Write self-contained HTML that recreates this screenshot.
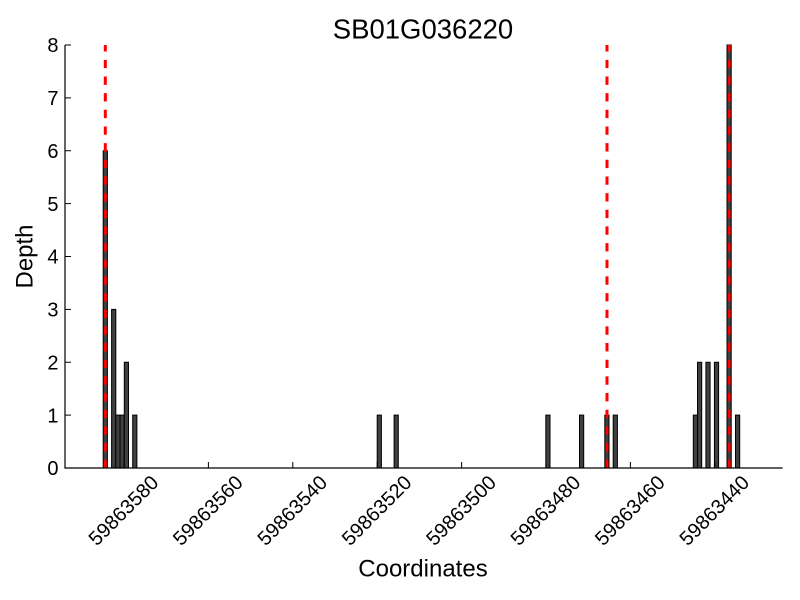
<!DOCTYPE html>
<html>
<head>
<meta charset="utf-8">
<style>
  html, body { margin: 0; padding: 0; background: #ffffff; }
  svg { display: block; }
  text { font-family: "Liberation Sans", "DejaVu Sans", sans-serif; fill: #000; }
</style>
</head>
<body>
<svg width="800" height="600" viewBox="0 0 800 600" xmlns="http://www.w3.org/2000/svg">
  <rect x="0" y="0" width="800" height="600" fill="#ffffff"/>

  <!-- Title -->
  <text x="423" y="38.5" font-size="27.5" text-anchor="middle">SB01G036220</text>

  <!-- Bars -->
  <g fill="#404040" stroke="#000" stroke-width="1">
    <rect x="103.2" y="150.75" width="4.2" height="317.25"/>
    <rect x="111.6" y="309.4" width="4.2" height="158.6"/>
    <rect x="115.8" y="415.1" width="4.2" height="52.9"/>
    <rect x="120.0" y="415.1" width="4.2" height="52.9"/>
    <rect x="124.3" y="362.25" width="4.2" height="105.75"/>
    <rect x="132.7" y="415.1" width="4.2" height="52.9"/>

    <rect x="377.2" y="415.1" width="4.2" height="52.9"/>
    <rect x="394.1" y="415.1" width="4.2" height="52.9"/>

    <rect x="545.8" y="415.1" width="4.2" height="52.9"/>
    <rect x="579.5" y="415.1" width="4.2" height="52.9"/>
    <rect x="604.8" y="415.1" width="4.2" height="52.9"/>
    <rect x="613.2" y="415.1" width="4.2" height="52.9"/>

    <rect x="693.3" y="415.1" width="4.2" height="52.9"/>
    <rect x="697.5" y="362.25" width="4.2" height="105.75"/>
    <rect x="705.9" y="362.25" width="4.2" height="105.75"/>
    <rect x="714.4" y="362.25" width="4.2" height="105.75"/>
    <rect x="727.0" y="45" width="4.2" height="423"/>
    <rect x="735.5" y="415.1" width="4.2" height="52.9"/>
  </g>

  <!-- Red dashed lines (drawn from bottom upward) -->
  <g stroke="#ff0000" stroke-width="3" stroke-dasharray="8.33 8.33" fill="none">
    <path d="M105.3 468 L105.3 45"/>
    <path d="M607.0 468 L607.0 45"/>
    <path d="M729.1 468 L729.1 45"/>
  </g>

  <!-- Spines -->
  <g stroke="#000" stroke-width="1.2" fill="none">
    <line x1="65" y1="45" x2="65" y2="468.5"/>
    <line x1="64.5" y1="468" x2="782.7" y2="468"/>
  </g>

  <!-- Y ticks (inward) -->
  <g stroke="#000" stroke-width="1">
    <line x1="65" y1="468" x2="71" y2="468"/>
    <line x1="65" y1="415.1" x2="71" y2="415.1"/>
    <line x1="65" y1="362.25" x2="71" y2="362.25"/>
    <line x1="65" y1="309.4" x2="71" y2="309.4"/>
    <line x1="65" y1="256.5" x2="71" y2="256.5"/>
    <line x1="65" y1="203.6" x2="71" y2="203.6"/>
    <line x1="65" y1="150.75" x2="71" y2="150.75"/>
    <line x1="65" y1="97.9" x2="71" y2="97.9"/>
    <line x1="65" y1="45" x2="71" y2="45"/>
  </g>
  <g font-size="20" text-anchor="end">
    <text x="58.5" y="475.2">0</text>
    <text x="58.5" y="422.3">1</text>
    <text x="58.5" y="369.4">2</text>
    <text x="58.5" y="316.6">3</text>
    <text x="58.5" y="263.7">4</text>
    <text x="58.5" y="210.8">5</text>
    <text x="58.5" y="158.0">6</text>
    <text x="58.5" y="105.1">7</text>
    <text x="58.5" y="52.2">8</text>
  </g>

  <!-- X ticks (inward) -->
  <g stroke="#000" stroke-width="1">
    <line x1="124" y1="468" x2="124" y2="462"/>
    <line x1="208.4" y1="468" x2="208.4" y2="462"/>
    <line x1="292.8" y1="468" x2="292.8" y2="462"/>
    <line x1="377.2" y1="468" x2="377.2" y2="462"/>
    <line x1="461.6" y1="468" x2="461.6" y2="462"/>
    <line x1="546" y1="468" x2="546" y2="462"/>
    <line x1="630.4" y1="468" x2="630.4" y2="462"/>
    <line x1="714.8" y1="468" x2="714.8" y2="462"/>
  </g>
  <g font-size="20" text-anchor="middle" dominant-baseline="central">
    <text transform="translate(124,511) rotate(-45)">59863580</text>
    <text transform="translate(208.4,511) rotate(-45)">59863560</text>
    <text transform="translate(292.8,511) rotate(-45)">59863540</text>
    <text transform="translate(377.2,511) rotate(-45)">59863520</text>
    <text transform="translate(461.6,511) rotate(-45)">59863500</text>
    <text transform="translate(546,511) rotate(-45)">59863480</text>
    <text transform="translate(630.4,511) rotate(-45)">59863460</text>
    <text transform="translate(714.8,511) rotate(-45)">59863440</text>
  </g>

  <!-- Axis labels -->
  <text x="423" y="576.5" font-size="24" text-anchor="middle">Coordinates</text>
  <text transform="translate(32.5,256.5) rotate(-90)" font-size="24" text-anchor="middle">Depth</text>
</svg>
</body>
</html>
